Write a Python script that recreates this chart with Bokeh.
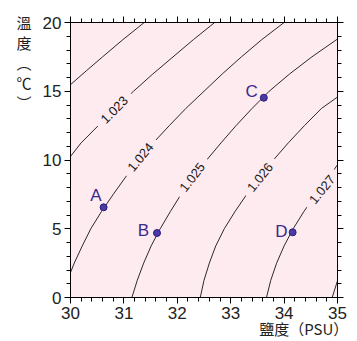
from bokeh.plotting import figure
from bokeh.models import (LinearAxis, SingleIntervalTicker, Range1d,
                          ColumnDataSource, CustomJSTickFormatter)
from bokeh.core.properties import value
from bokeh.embed import file_html
from bokeh.resources import INLINE
import math

# ---------------- data ----------------
x_ticks = [30, 31, 32, 33, 34, 35]
y_ticks = [0, 5, 10, 15, 20]

# isopycnal contours: salinity (PSU) and temperature (degC)
c1022_S = [30.00, 30.30, 30.60, 30.98, 31.38]
c1022_T = [15.48, 16.50, 17.50, 18.75, 20.00]

c1023_S = [30.00, 30.20, 30.52, 30.84, 31.18, 31.54, 31.92, 32.30, 32.70]
c1023_T = [10.26, 11.25, 12.50, 13.75, 15.00, 16.25, 17.50, 18.75, 20.00]

c1024_S = [30.00, 30.07, 30.22, 30.38, 30.58, 30.80, 31.03, 31.28, 31.55, 31.85,
           32.16, 32.50, 32.84, 33.20, 33.58, 34.00]
c1024_T = [1.82, 2.50, 3.75, 5.00, 6.25, 7.50, 8.75, 10.00, 11.25, 12.50,
           13.75, 15.00, 16.25, 17.50, 18.75, 20.00]

c1025_S = [31.15, 31.25, 31.37, 31.51, 31.68, 31.87, 32.07, 32.30, 32.55, 32.82,
           33.10, 33.40, 33.72, 34.10, 34.52, 35.00]
c1025_T = [0.00, 1.25, 2.50, 3.75, 5.00, 6.25, 7.50, 8.75, 10.00, 11.25,
           12.50, 13.75, 15.00, 16.25, 17.50, 18.80]

c1026_S = [32.43, 32.50, 32.60, 32.72, 32.88, 33.08, 33.30, 33.54, 33.80, 34.08,
           34.38, 34.70, 35.00]
c1026_T = [0.00, 1.25, 2.50, 3.75, 5.00, 6.25, 7.50, 8.75, 10.00, 11.25,
           12.50, 13.75, 14.58]

c1027_S = [33.67, 33.75, 33.86, 34.00, 34.17, 34.37, 34.60, 34.83, 35.00]
c1027_T = [0.00, 1.25, 2.50, 3.75, 5.00, 6.25, 7.50, 8.75, 9.65]

c1028_S = [34.90, 35.00]
c1028_T = [0.00, 1.22]

contour_S = [c1022_S, c1023_S, c1024_S, c1025_S, c1026_S, c1027_S, c1028_S]
contour_T = [c1022_T, c1023_T, c1024_T, c1025_T, c1026_T, c1027_T, c1028_T]

# contour labels
clabel_text = ["1.023", "1.024", "1.025", "1.026", "1.027"]
clabel_S = [30.82, 31.31, 32.28, 33.55, 34.71]
clabel_T = [13.65, 10.21, 8.75, 8.75, 7.85]
clabel_angle_deg = [45, 50, 52, 51, 51]

# water samples
pt_name = ["A", "B", "C", "D"]
pt_S = [30.62, 31.62, 33.62, 34.16]
pt_T = [6.56, 4.69, 14.53, 4.74]

x_title = "鹽度（PSU）"
y_title_chars = ["溫", "度", "︵", "℃", "︶"]

# ---------------- styling ----------------
W, H = 357, 341
BL, BR, BT, BB = 70, 20, 22, 44
BG = "#fdebf0"
INK = "#3b2a8c"
PAD = "\u3000"   # ideographic space, used only to shift the axis titles

p = figure(width=W, height=H, x_range=Range1d(30, 35), y_range=Range1d(0, 20),
           output_backend="svg", toolbar_location=None,
           min_border_left=BL, min_border_right=BR, min_border_top=BT, min_border_bottom=BB)
p.background_fill_color = BG
p.border_fill_color = "white"
p.outline_line_color = "black"
p.grid.visible = False

p.add_layout(LinearAxis(), "right")
p.add_layout(LinearAxis(), "above")

for ax in p.xaxis:
    ax.ticker = SingleIntervalTicker(interval=1, num_minor_ticks=5)
for ax in p.yaxis:
    ax.ticker = SingleIntervalTicker(interval=5, num_minor_ticks=5)

for ax in p.axis:
    ax.axis_line_color = "black"
    ax.major_tick_line_color = "black"
    ax.minor_tick_line_color = "black"
    ax.major_tick_in = 0
    ax.major_tick_out = 6
    ax.minor_tick_in = 0
    ax.minor_tick_out = 4
    ax.major_label_text_font = "Liberation Sans"
    ax.major_label_text_font_size = "17px"
    ax.major_label_text_color = "#222222"

for ax in (p.right[0], p.above[0]):
    ax.formatter = CustomJSTickFormatter(code="return ''")
    ax.major_label_standoff = 0
p.below[0].major_label_standoff = 3
p.left[0].major_label_standoff = 3

# axis titles
def set_opt(obj, name, val):
    try:
        setattr(obj, name, val)
    except Exception:
        pass

yl = p.left[0]
yl.axis_label = "\n".join([PAD] * 4 + y_title_chars)
yl.axis_label_text_font = "Noto Sans CJK TC"
yl.axis_label_text_font_size = "15px"
yl.axis_label_text_font_style = "normal"
yl.axis_label_text_color = "#222222"
yl.axis_label_standoff = 8
set_opt(yl, "axis_label_text_line_height", 0.95)
set_opt(yl, "axis_label_orientation", "horizontal")
set_opt(yl, "axis_label_align", "end")

xl = p.below[0]
xl.axis_label = x_title + PAD * 5
xl.axis_label_text_font = "Noto Sans CJK TC"
xl.axis_label_text_font_size = "15px"
xl.axis_label_text_font_style = "normal"
xl.axis_label_text_color = "#222222"
xl.axis_label_standoff = -4
set_opt(xl, "axis_label_align", "end")

# contour lines
p.multi_line(xs=contour_S, ys=contour_T, line_color="#2a2a2a", line_width=1)

# contour labels with a background that hides the line under them
src_lab = ColumnDataSource(dict(x=clabel_S, y=clabel_T, text=clabel_text,
                                angle=[math.radians(a) for a in clabel_angle_deg]))
p.text(x="x", y="y", text="text", angle="angle", source=src_lab,
       text_align="center", text_baseline="middle",
       text_font=value("Liberation Sans"), text_font_size="13px", text_color="#1a1a1a",
       background_fill_color=BG, padding=(7, 0))

# sample points
src_pt = ColumnDataSource(dict(x=pt_S, y=pt_T, name=pt_name,
                               xo=[-2, -8, -6, -5], yo=[-12, -3, -6, -1]))
p.scatter(x="x", y="y", source=src_pt, size=7, fill_color="#4a3aa6",
          line_color="#2c1d78", line_width=1)
p.text(x="x", y="y", text="name", source=src_pt, x_offset="xo", y_offset="yo",
       text_align="right", text_baseline="middle",
       text_font=value("Liberation Sans"), text_font_size="17px", text_color=INK)

open("out.html", "w").write(file_html(p, INLINE))
